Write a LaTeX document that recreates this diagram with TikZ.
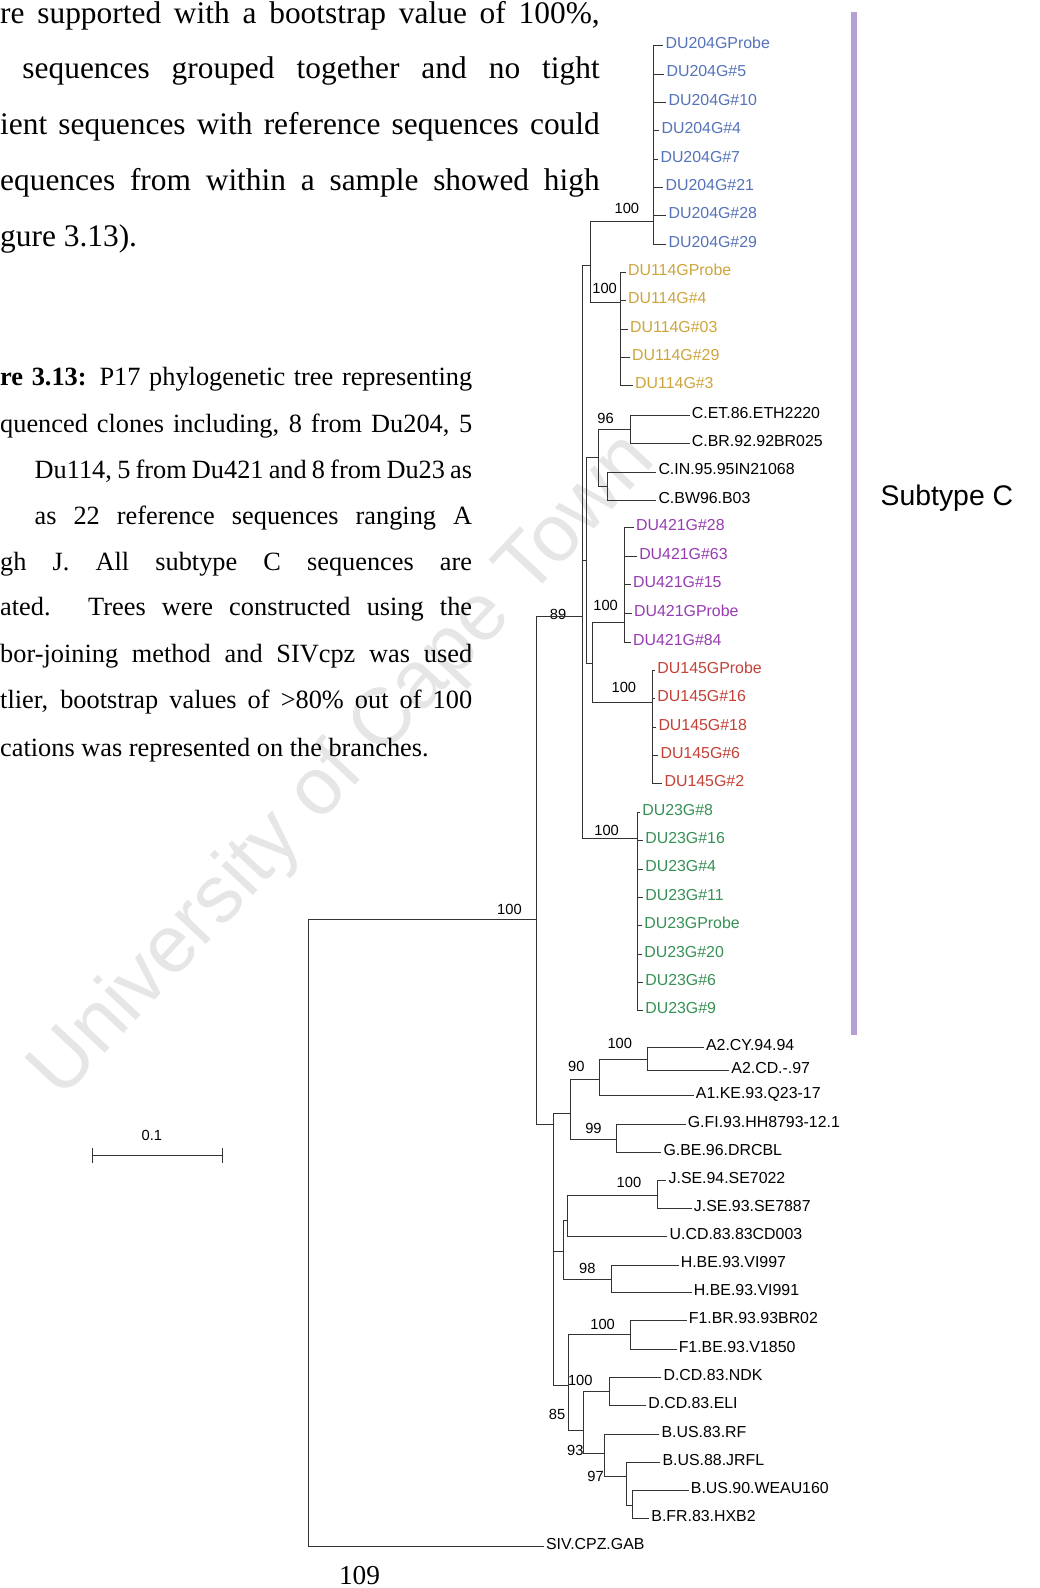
\documentclass[tikz,border=0pt]{standalone}
\usepackage{fontspec}
\setmainfont{Liberation Serif}
\newfontfamily\treefont{Liberation Sans}
\usetikzlibrary{positioning}

\definecolor{col204}{RGB}{85,115,185}
\definecolor{col114}{RGB}{205,165,60}
\definecolor{col421}{RGB}{150,60,175}
\definecolor{col145}{RGB}{195,65,55}
\definecolor{col23}{RGB}{55,145,85}
\definecolor{colbar}{RGB}{180,160,210}
\definecolor{colmark}{RGB}{230,230,230}

\begin{document}
\begin{tikzpicture}[
	x=1pt, y=-1pt,
	body/.style={anchor=base west, inner sep=0pt, font=\fontsize{31}{36}\selectfont},
	capt/.style={anchor=base west, inner sep=0pt, font=\fontsize{26}{30}\selectfont},
	tip/.style={anchor=west, inner sep=2pt, text height=1.55ex, text depth=0.25ex, font=\treefont\fontsize{15.7}{17}\selectfont},
	boot/.style={inner sep=0pt, font=\treefont\fontsize{14.5}{16}\selectfont},
	branch/.style={line width=0.8pt, black!80}
]
\useasboundingbox (0,0) rectangle (1026,1568);

% Watermark
\node[rotate=47, text=colmark, font=\treefont\fontsize{80}{80}\selectfont] (wmark) at (340,757) {University of Cape Town};

% Text
\node[body] (line1) at (0,23) {\makebox[592pt][s]{re supported with a bootstrap value of 100\%,}};
\node[body] (line2) at (22,78) {\makebox[570pt][s]{sequences grouped together and no tight}};
\node[body] (line3) at (0,133) {\makebox[592pt][s]{ient sequences with reference sequences could}};
\node[body] (line4) at (0,188) {\makebox[592pt][s]{equences from within a sample showed high}};
\node[body] (line5) at (0,243) {gure 3.13).};

\node[capt] (cap1) at (0,381) {\makebox[466pt][s]{\textbf{re 3.13:} P17 phylogenetic tree representing}};
\node[capt] (cap2) at (0,427) {\makebox[466pt][s]{quenced clones including, 8 from Du204, 5}};
\node[capt] (cap3) at (34,472) {\makebox[432pt][s]{Du114, 5 from Du421 and 8 from Du23 as}};
\node[capt] (cap4) at (34,518) {\makebox[432pt][s]{as 22 reference sequences ranging A}};
\node[capt] (cap5) at (0,563) {\makebox[466pt][s]{gh J. All subtype C sequences are}};
\node[capt] (cap6) at (0,608) {\makebox[466pt][s]{ated. Trees were constructed using the}};
\node[capt] (cap7) at (0,654) {\makebox[466pt][s]{bor-joining method and SIVcpz was used}};
\node[capt] (cap8) at (0,700) {\makebox[466pt][s]{tlier, bootstrap values of >80\% out of 100}};
\node[capt] (cap9) at (0,747) {cations was represented on the branches.};

\node[font=\fontsize{27}{30}\selectfont, anchor=base] (pnum) at (355,1565) {109};

% Subtype bar
\coordinate (barTop) at (843,12);
\coordinate (barBot) at (843,1022);
\draw[line width=6pt, colbar] (barTop) -- (barBot);
\node[font=\treefont\fontsize{28}{32}\selectfont] (subC) at (935,492) {Subtype C};

% Tips
\node[tip, text=col204] (t204a) at (655,45) {DU204GProbe};
\node[tip, text=col204] (t204b) at (656,73) {DU204G\#5};
\node[tip, text=col204] (t204c) at (658,101) {DU204G\#10};
\node[tip, text=col204] (t204d) at (651,129) {DU204G\#4};
\node[tip, text=col204] (t204e) at (650,157) {DU204G\#7};
\node[tip, text=col204] (t204f) at (655,185) {DU204G\#21};
\node[tip, text=col204] (t204g) at (658,213) {DU204G\#28};
\node[tip, text=col204] (t204h) at (658,241) {DU204G\#29};

\node[tip, text=col114] (t114a) at (618,269) {DU114GProbe};
\node[tip, text=col114] (t114b) at (618,297) {DU114G\#4};
\node[tip, text=col114] (t114c) at (620,325) {DU114G\#03};
\node[tip, text=col114] (t114d) at (622,353) {DU114G\#29};
\node[tip, text=col114] (t114e) at (625,381) {DU114G\#3};

\node[tip] (tcet) at (681,410) {C.ET.86.ETH2220};
\node[tip] (tcbr) at (681,438) {C.BR.92.92BR025};
\node[tip] (tcin) at (648,466) {C.IN.95.95IN21068};
\node[tip] (tcbw) at (648,494) {C.BW96.B03};

\node[tip, text=col421] (t421a) at (626,521) {DU421G\#28};
\node[tip, text=col421] (t421b) at (629,549) {DU421G\#63};
\node[tip, text=col421] (t421c) at (623,577) {DU421G\#15};
\node[tip, text=col421] (t421d) at (624,606) {DU421GProbe};
\node[tip, text=col421] (t421e) at (623,634) {DU421G\#84};

\node[tip, text=col145] (t145a) at (647,662) {DU145GProbe};
\node[tip, text=col145] (t145b) at (647,690) {DU145G\#16};
\node[tip, text=col145] (t145c) at (648,718) {DU145G\#18};
\node[tip, text=col145] (t145d) at (650,746) {DU145G\#6};
\node[tip, text=col145] (t145e) at (654,774) {DU145G\#2};

\node[tip, text=col23] (t23a) at (632,802) {DU23G\#8};
\node[tip, text=col23] (t23b) at (635,830) {DU23G\#16};
\node[tip, text=col23] (t23c) at (635,858) {DU23G\#4};
\node[tip, text=col23] (t23d) at (635,886) {DU23G\#11};
\node[tip, text=col23] (t23e) at (634,914) {DU23GProbe};
\node[tip, text=col23] (t23f) at (634,942) {DU23G\#20};
\node[tip, text=col23] (t23g) at (635,970) {DU23G\#6};
\node[tip, text=col23] (t23h) at (635,998) {DU23G\#9};

\node[tip] (ta2cy) at (695,1034) {A2.CY.94.94};
\node[tip] (ta2cd) at (720,1057) {A2.CD.-.97};
\node[tip] (ta1ke) at (685,1082) {A1.KE.93.Q23-17};
\node[tip] (tgfi) at (677,1110) {G.FI.93.HH8793-12.1};
\node[tip] (tgbe) at (653,1138) {G.BE.96.DRCBL};
\node[tip] (tjse94) at (658,1166) {J.SE.94.SE7022};
\node[tip] (tjse93) at (683,1193) {J.SE.93.SE7887};
\node[tip] (tucd) at (659,1221) {U.CD.83.83CD003};
\node[tip] (thbe97) at (670,1249) {H.BE.93.VI997};
\node[tip] (thbe91) at (683,1276) {H.BE.93.VI991};
\node[tip] (tf1br) at (678,1304) {F1.BR.93.93BR02};
\node[tip] (tf1be) at (668,1332) {F1.BE.93.V1850};
\node[tip] (tdndk) at (653,1360) {D.CD.83.NDK};
\node[tip] (tdeli) at (638,1388) {D.CD.83.ELI};
\node[tip] (tbrf) at (651,1416) {B.US.83.RF};
\node[tip] (tbjrfl) at (652,1444) {B.US.88.JRFL};
\node[tip] (tbweau) at (680,1472) {B.US.90.WEAU160};
\node[tip] (tbhxb2) at (641,1499) {B.FR.83.HXB2};
\node[tip] (tsiv) at (537,1527) {SIV.CPZ.GAB};

% Inner nodes
\coordinate (root) at (305,1217);
\coordinate (nM) at (530,908);
\coordinate (nC) at (575,609);
\coordinate (nX) at (583,262);
\coordinate (n204) at (645,219);
\coordinate (n114) at (613,299);
\coordinate (nC1) at (579,553);
\coordinate (nCR) at (591,452);
\coordinate (nCE) at (622,424);
\coordinate (nCI) at (600,480);
\coordinate (nY) at (585,655);
\coordinate (n421) at (617,615);
\coordinate (n145) at (644,694);
\coordinate (n23) at (629,828);
\coordinate (nNC) at (546,1110);
\coordinate (nAG) at (563,1099);
\coordinate (nA) at (592,1066);
\coordinate (nA2) at (639,1046);
\coordinate (nG) at (609,1125);
\coordinate (nJUH) at (556,1236);
\coordinate (nJU) at (560,1205);
\coordinate (nJ) at (649,1180);
\coordinate (nH) at (604,1263);
\coordinate (n85) at (561,1368);
\coordinate (nF) at (622,1318);
\coordinate (nDB) at (576,1412);
\coordinate (nD) at (602,1374);
\coordinate (nB) at (597,1435);
\coordinate (nBs) at (619,1458);
\coordinate (nWH) at (624,1486);

% Bootstrap values
\node[boot] (b204) at (619,206) {100};
\node[boot] (b114) at (597,285) {100};
\node[boot] (b96) at (598,413) {96};
\node[boot] (b421) at (598,598) {100};
\node[boot] (b89) at (551,607) {89};
\node[boot] (b145) at (616,679) {100};
\node[boot] (b23) at (599,820) {100};
\node[boot] (bM) at (503,898) {100};
\node[boot] (bA2) at (612,1030) {100};
\node[boot] (b90) at (569,1053) {90};
\node[boot] (b99) at (586,1114) {99};
\node[boot] (bJ) at (621,1168) {100};
\node[boot] (b98) at (580,1252) {98};
\node[boot] (bF1) at (595,1308) {100};
\node[boot] (bD) at (573,1363) {100};
\node[boot] (b85) at (550,1397) {85};
\node[boot] (b93) at (568,1432) {93};
\node[boot] (b97) at (588,1458) {97};

% Scale bar
\coordinate (sbL) at (91,1141);
\coordinate (sbR) at (220,1141);
\node[boot] (sbtext) at (150,1121) {0.1};
\draw[branch] (sbL) -- (sbR);
\draw[branch] ([yshift=7pt]sbL) -- ([yshift=-7pt]sbL);
\draw[branch] ([yshift=7pt]sbR) -- ([yshift=-7pt]sbR);

% Edges
\draw[branch] (root) |- (nM);
\draw[branch] (root) |- (tsiv.west);
\draw[branch] (nM) |- (nC);
\draw[branch] (nM) |- (nNC);

\draw[branch] (nC) |- (nX);
\draw[branch] (nC) |- (nC1);
\draw[branch] (nC) |- (n23);
\draw[branch] (nX) |- (n204);
\draw[branch] (nX) |- (n114);
\draw[branch] (n204) |- (t204a.west) (n204) |- (t204b.west) (n204) |- (t204c.west) (n204) |- (t204d.west)
	(n204) |- (t204e.west) (n204) |- (t204f.west) (n204) |- (t204g.west) (n204) |- (t204h.west);
\draw[branch] (n114) |- (t114a.west) (n114) |- (t114b.west) (n114) |- (t114c.west) (n114) |- (t114d.west)
	(n114) |- (t114e.west);
\draw[branch] (nC1) |- (nCR);
\draw[branch] (nC1) |- (nY);
\draw[branch] (nCR) |- (nCE);
\draw[branch] (nCR) |- (nCI);
\draw[branch] (nCE) |- (tcet.west);
\draw[branch] (nCE) |- (tcbr.west);
\draw[branch] (nCI) |- (tcin.west);
\draw[branch] (nCI) |- (tcbw.west);
\draw[branch] (nY) |- (n421);
\draw[branch] (nY) |- (n145);
\draw[branch] (n421) |- (t421a.west) (n421) |- (t421b.west) (n421) |- (t421c.west) (n421) |- (t421d.west)
	(n421) |- (t421e.west);
\draw[branch] (n145) |- (t145a.west) (n145) |- (t145b.west) (n145) |- (t145c.west) (n145) |- (t145d.west)
	(n145) |- (t145e.west);
\draw[branch] (n23) |- (t23a.west) (n23) |- (t23b.west) (n23) |- (t23c.west) (n23) |- (t23d.west)
	(n23) |- (t23e.west) (n23) |- (t23f.west) (n23) |- (t23g.west) (n23) |- (t23h.west);

\draw[branch] (nNC) |- (nAG);
\draw[branch] (nNC) |- (nJUH);
\draw[branch] (nNC) |- (n85);
\draw[branch] (nAG) |- (nA);
\draw[branch] (nAG) |- (nG);
\draw[branch] (nA) |- (nA2);
\draw[branch] (nA) |- (ta1ke.west);
\draw[branch] (nA2) |- (ta2cy.west);
\draw[branch] (nA2) |- (ta2cd.west);
\draw[branch] (nG) |- (tgfi.west);
\draw[branch] (nG) |- (tgbe.west);
\draw[branch] (nJUH) |- (nJU);
\draw[branch] (nJUH) |- (nH);
\draw[branch] (nJU) |- (nJ);
\draw[branch] (nJU) |- (tucd.west);
\draw[branch] (nJ) |- (tjse94.west);
\draw[branch] (nJ) |- (tjse93.west);
\draw[branch] (nH) |- (thbe97.west);
\draw[branch] (nH) |- (thbe91.west);
\draw[branch] (n85) |- (nF);
\draw[branch] (n85) |- (nDB);
\draw[branch] (nF) |- (tf1br.west);
\draw[branch] (nF) |- (tf1be.west);
\draw[branch] (nDB) |- (nD);
\draw[branch] (nDB) |- (nB);
\draw[branch] (nD) |- (tdndk.west);
\draw[branch] (nD) |- (tdeli.west);
\draw[branch] (nB) |- (tbrf.west);
\draw[branch] (nB) |- (nBs);
\draw[branch] (nBs) |- (tbjrfl.west);
\draw[branch] (nBs) |- (nWH);
\draw[branch] (nWH) |- (tbweau.west);
\draw[branch] (nWH) |- (tbhxb2.west);

\end{tikzpicture}
\end{document}
